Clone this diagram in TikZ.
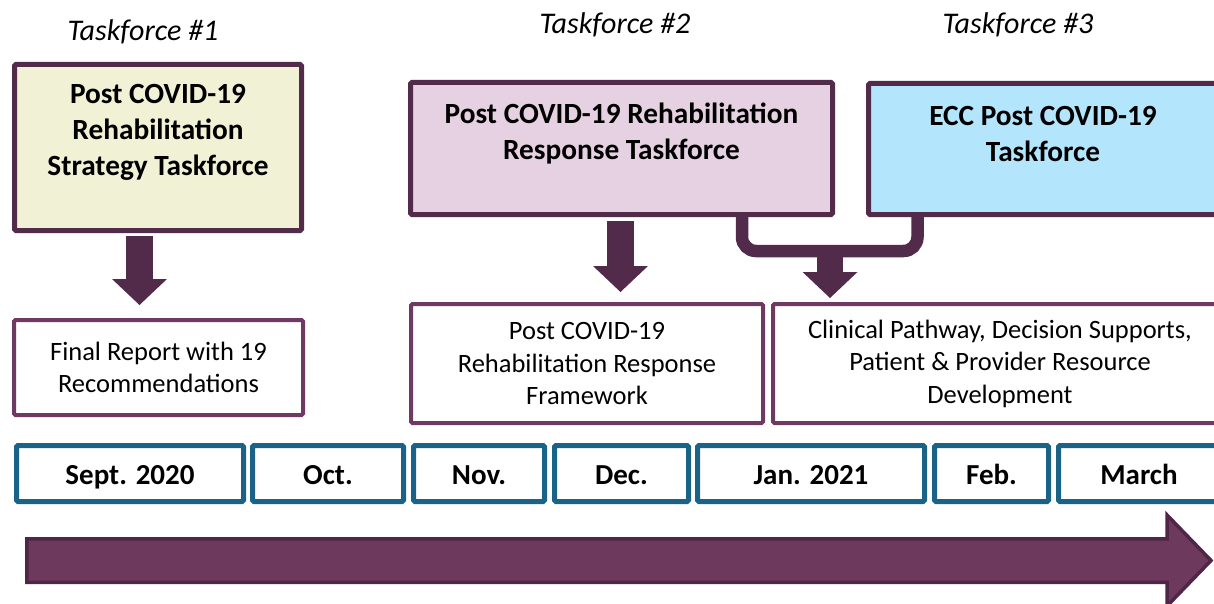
\documentclass[tikz,border=0pt]{standalone}
\usepackage{fontspec}
\setmainfont{Carlito}
\usetikzlibrary{arrows.meta}
\definecolor{tfborder}{HTML}{532B4A}
\definecolor{outborder}{HTML}{6E3A63}
\definecolor{monthborder}{HTML}{1B6287}
\definecolor{fillA}{HTML}{F0F1D5}
\definecolor{fillB}{HTML}{E6D1E3}
\definecolor{fillC}{HTML}{B3E6FC}
\definecolor{tlfill}{HTML}{6D395D}
\definecolor{tlborder}{HTML}{4F2647}
\begin{document}
\begin{tikzpicture}[x=1pt,y=-1pt,
  tfbox/.style={draw=tfborder, line width=5pt, rounded corners=1.5pt, inner sep=0pt},
  tftext/.style={align=center, font=\bfseries\fontsize{29.3}{36}\selectfont, inner sep=0pt},
  tflabel/.style={font=\itshape\fontsize{30}{36}\selectfont, inner sep=0pt},
  outbox/.style={draw=outborder, line width=4pt, fill=white, rounded corners=1.5pt, align=center, font=\fontsize{26.5}{32.5}\selectfont, inner sep=0pt},
  monthbox/.style={draw=monthborder, line width=5pt, fill=white, rounded corners=1.5pt, minimum height=56pt, text height=22pt, text depth=0pt, font=\bfseries\fontsize{29}{35}\selectfont, inner sep=0pt},
  blockarrow/.style={draw=tfborder, line width=#1, -{Triangle[length=26pt,width=55pt,line width=0pt]}},
  bracket/.style={draw=tfborder, line width=12.5pt, rounded corners=14pt}
]
\useasboundingbox (0,0) rectangle (1214,604);
\clip (0,0) rectangle (1214,604);

% taskforce labels
\node[tflabel] (l1) at (143,32) {Taskforce \#1};
\node[tflabel] (l2) at (615,25) {Taskforce \#2};
\node[tflabel] (l3) at (1018,25) {Taskforce \#3};

% taskforce boxes
\node[tfbox, fill=fillA, minimum width=287pt, minimum height=166pt] (box1) at (158,147.5) {};
\node[tftext] (t1) at (158,132.5) {Post COVID-19\\Rehabilitation\\Strategy Taskforce};
\node[tfbox, fill=fillB, minimum width=422pt, minimum height=132pt] (box2) at (621.5,148.5) {};
\node[tftext] (t2) at (621.5,134) {Post COVID-19 Rehabilitation\\Response Taskforce};
\node[tfbox, fill=fillC, minimum width=349pt, minimum height=131pt] (box3) at (1043,149) {};
\node[tftext] (t3) at (1043,134.5) {ECC Post COVID-19\\Taskforce};

% output boxes
\node[outbox, minimum width=289pt, minimum height=95pt] (out1) at (158.5,367.5) {Final Report with 19\\Recommendations};
\node[outbox, minimum width=352pt, minimum height=119pt] (out2) at (587,363.5) {Post COVID-19\\Rehabilitation Response\\Framework};
\node[outbox, minimum width=454pt, minimum height=119pt] (out3) at (1000,363.5) {Clinical Pathway, Decision Supports,\\Patient \& Provider Resource\\Development};

% connectors
\draw[blockarrow=27pt, shorten <=3pt, shorten >=13pt] (139.5,0 |- box1.south) -- (139.5,0 |- out1.north);
\draw[blockarrow=27pt, shorten <=4pt, shorten >=10pt] (620.5,0 |- box2.south) -- (620.5,0 |- out2.north);
\coordinate (join) at (830,251);
\draw[bracket] (742,0 |- box2.south) |- (join) -| (917.5,0 |- box3.south);
\draw[blockarrow=26pt, shorten >=4pt] (830,245) -- (830,0 |- out3.north);

% months
\node[monthbox, minimum width=227pt] (m1) at (130,473.5) {Sept. 2020};
\node[monthbox, minimum width=151pt] (m2) at (328,473.5) {Oct.};
\node[monthbox, minimum width=131pt] (m3) at (479,473.5) {Nov.};
\node[monthbox, minimum width=134pt] (m4) at (621.5,473.5) {Dec.};
\node[monthbox, minimum width=227pt] (m5) at (811,473.5) {Jan. 2021};
\node[monthbox, minimum width=114pt] (m6) at (991.5,473.5) {Feb.};
\node[monthbox, minimum width=161pt] (m7) at (1139,473.5) {March};

% timeline arrow
\draw[fill=tlfill, draw=tlborder, line width=3.5pt, line join=miter]
  (26.75,538.75) -- (1167,538.75) -- (1167,515) -- (1211,560.5) -- (1167,606) -- (1167,582.25) -- (26.75,582.25) -- cycle;
\end{tikzpicture}
\end{document}
